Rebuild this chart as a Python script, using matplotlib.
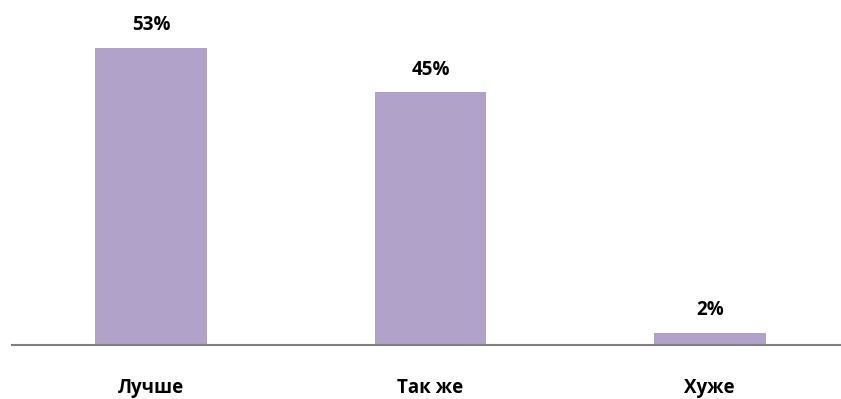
import matplotlib
matplotlib.use('Agg')
import matplotlib.pyplot as plt

# Data
categories = ['Лучше', 'Так же', 'Хуже']
values = [53, 45, 2]
value_labels = ['53%', '45%', '2%']

BAR_COLOR = '#B1A2C9'
AXIS_COLOR = '#808080'
FONT = ['Open Sans', 'DejaVu Sans']

fig = plt.figure(figsize=(8.41, 3.99), dpi=100)
ax = fig.add_axes([12 / 841, 54.5 / 399, 829 / 841, 344.5 / 399])

x = list(range(len(categories)))
bars = ax.bar(x, values, width=0.40, color=BAR_COLOR, zorder=2)

ax.set_xlim(-0.498, 2.470)
ax.set_ylim(0, 61.5)

# value labels above each bar (offsets in points; 100 dpi)
for xi, v, lab in zip(x, values, value_labels):
    ax.annotate(lab, xy=(xi, v), xytext=(0, 16.5), textcoords='offset points',
                ha='center', va='center', fontsize=13.5, fontweight='bold',
                family=FONT, color='black')

for xi, cat in zip(x, categories):
    ax.annotate(cat, xy=(xi, 0), xytext=(0, -31.5), textcoords='offset points',
                ha='center', va='center', fontsize=13.5, fontweight='bold',
                family=FONT, color='black')

for side in ['top', 'right', 'left']:
    ax.spines[side].set_visible(False)
ax.spines['bottom'].set_color(AXIS_COLOR)
ax.spines['bottom'].set_linewidth(1.5)
ax.set_xticks([])
ax.set_yticks([])

fig.savefig('out.png', dpi=100)
